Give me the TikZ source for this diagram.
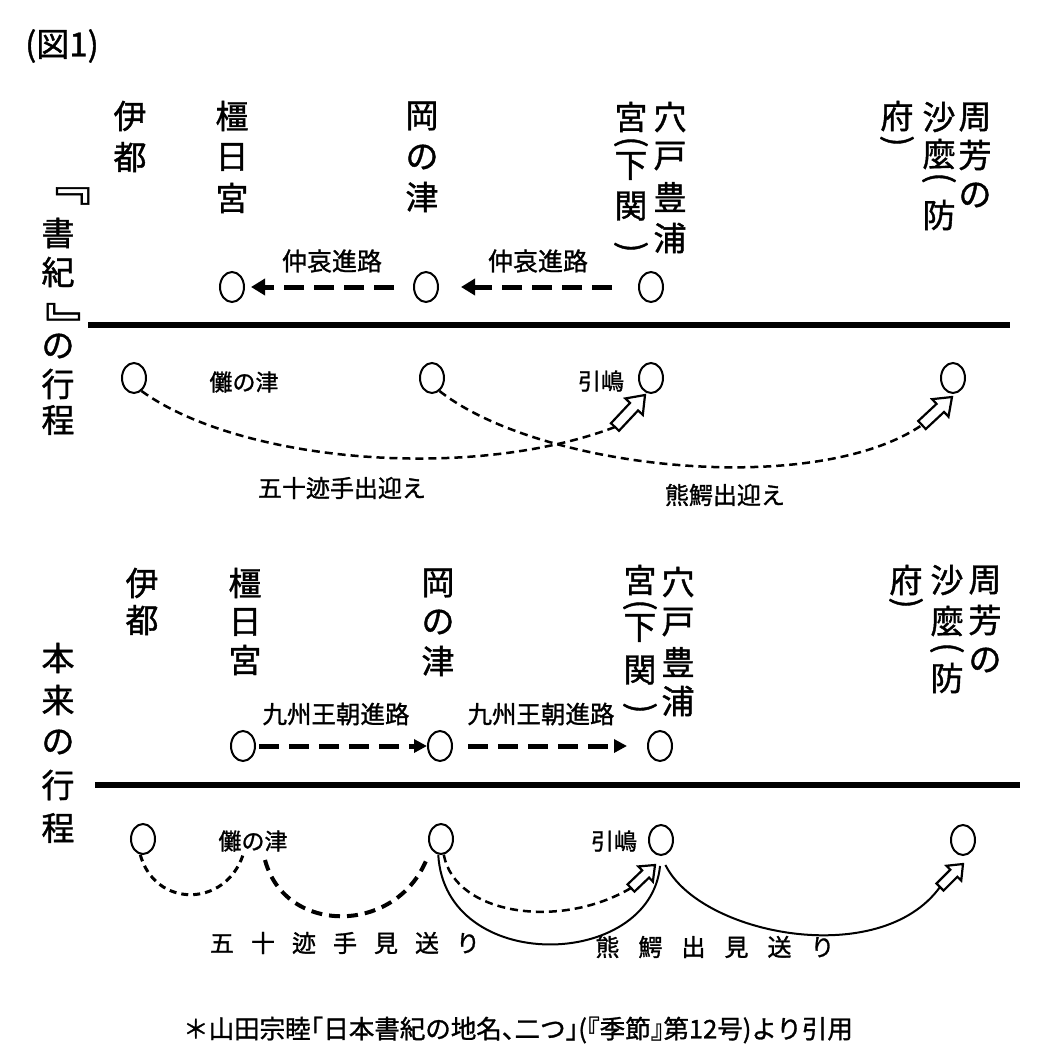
\documentclass[tikz,border=0pt]{standalone}
\usepackage{fontspec}
\usepackage{graphicx}
\newfontfamily\jp[FakeBold=1.2]{Noto Sans CJK JP}
\newfontfamily\jpn[RawFeature=+halt,FakeBold=1.2]{Noto Sans CJK JP}
\usetikzlibrary{shapes.geometric,arrows.meta,calc}
\newcommand{\vlp}{\rotatebox{-90}{(}}
\newcommand{\vrp}{\rotatebox{-90}{)}}
\newcommand{\vlb}{\scalebox{1.5}{﹃}}
\newcommand{\vrb}{\scalebox{1.5}{﹄}}
\newcommand{\gp}{\hspace{17pt}}
\newcommand{\gq}{\hspace{19pt}}
% tail, tip, body half width, head half width, head length
\newcommand{\blockarrow}[5]{%
  \coordinate (bh) at ($(#2)!#5!(#1)$);
  \draw[hollowtip] ($(#1)!#3!90:(#2)$) -- ($(bh)!#3!-90:(#1)$) -- ($(bh)!#4!-90:(#1)$) -- (#2)
    -- ($(bh)!#4!90:(#1)$) -- ($(bh)!#3!90:(#1)$) -- ($(#1)!#3!-90:(#2)$) -- cycle;}
\begin{document}
\begin{tikzpicture}[x=1pt,y=-1pt,
  spot/.style={ellipse,draw,line width=2pt,minimum width=24pt,minimum height=30pt,inner sep=0pt},
  bigch/.style={font=\jp\fontsize{33}{33}\selectfont,inner sep=0pt},
  lbl/.style={font=\jp\fontsize{24}{24}\selectfont,inner sep=0pt},
  rule/.style={line width=6pt},
  route/.style={line width=5pt,dash pattern=on 20pt off 10pt},
  thindash/.style={line width=2.5pt,dash pattern=on 8pt off 5pt},
  meddash/.style={line width=3pt,dash pattern=on 7pt off 5pt},
  thickdash/.style={line width=4pt,dash pattern=on 11pt off 7pt},
  solidc/.style={line width=2pt},
  hollowtip/.style={line width=2.2pt,fill=white,line join=miter}]
\fill[white] (0,0) rectangle (1054,1063);
\useasboundingbox (0,0) rectangle (1054,1063);

% title
\node[font=\jp\fontsize{33}{33}\selectfont,inner sep=0pt] (title) at (62,46) {(図1)};

% section headings
\foreach \n/\x/\y/\c in {
  ha1/66/196/\vlb, ha2/58/233/書, ha3/58/272/紀, ha4/70/324/\vrb,
  ha5/58/346/の, ha6/58/384/行, ha7/58/420/程,
  hb1/58/658/本, hb2/58/700/来, hb3/58/742/の, hb4/58/785/行, hb5/58/828/程}
  \node[bigch] (\n) at (\x,\y) {\c};

% place names, upper part
\foreach \n/\x/\y/\c in {
  ua1/130/116/伊, ua2/130/157/都,
  ub1/232/116/橿, ub2/232/157/日, ub3/232/198/宮,
  uc1/422/116/岡, uc2/422/157/の, uc3/422/197/津,
  ud1/670/117/穴, ud2/670/156/戸, ud3/670/197/豊, ud4/670/238/浦,
  ue1/631/117/宮, ue2/631/142/\vlp, ue3/631/166/下, ue4/631/206/関, ue5/631/247/\vrp,
  uf1/975/117/周, uf2/975/155/芳, uf3/975/195/の,
  ug1/939/117/沙, ug2/939/154/麼, ug3/939/178/\vlp, ug4/939/215/防,
  uh1/897/116/府, uh2/897/141/\vrp}
  \node[bigch] (\n) at (\x,\y) {\c};

% place names, lower part
\foreach \n/\x/\y/\c in {
  la1/142/583/伊, la2/142/620/都,
  lb1/245/583/橿, lb2/245/622/日, lb3/245/660/宮,
  lc1/438/583/岡, lc2/438/622/の, lc3/438/661/津,
  ld1/678/582/穴, ld2/678/622/戸, ld3/678/662/豊, ld4/678/701/浦,
  le1/640/580/宮, le2/640/605/\vlp, le3/640/628/下, le4/640/670/関, le5/640/708/\vrp,
  lf1/985/580/周, lf2/985/620/芳, lf3/985/660/の,
  lg1/947/580/沙, lg2/947/621/麼, lg3/947/648/\vlp, lg4/947/678/防,
  lh1/906/580/府, lh2/906/603/\vrp}
  \node[bigch] (\n) at (\x,\y) {\c};

% circles
\node[spot] (k1) at (232,287) {};
\node[spot] (o1) at (426,287) {};
\node[spot] (a1) at (651,287) {};
\node[spot] (i2) at (134,378) {};
\node[spot] (o2) at (432,378) {};
\node[spot] (h2) at (651,378) {};
\node[spot] (s2) at (953,378) {};
\node[spot] (k3) at (243,746) {};
\node[spot] (o3) at (440,746) {};
\node[spot] (a3) at (660,746) {};
\node[spot] (i4) at (143,839) {};
\node[spot] (o4) at (441,839) {};
\node[spot] (h4) at (661,840) {};
\node[spot] (s4) at (963,840) {};

% main rules
\coordinate (r1a) at (88,325);
\coordinate (r1b) at (1010,325);
\coordinate (r2a) at (95,785);
\coordinate (r2b) at (1020,785);
\draw[rule] (r1a) -- (r1b);
\draw[rule] (r2a) -- (r2b);

% route arrows
\draw[route,-{Triangle[length=14pt,width=16pt]},shorten <=19pt,shorten >=6pt] (o1.west) -- (k1.east);
\draw[route,-{Triangle[length=14pt,width=16pt]},shorten <=26pt,shorten >=22pt] (a1.west) -- (o1.east);
\draw[route,-{Triangle[length=13pt,width=13pt]},shorten <=3pt] (k3.east) -- (o3.west);
\draw[route,-{Triangle[length=13pt,width=13pt]},shorten <=15pt,shorten >=20pt] (o3.east) -- (a3.west);

% route labels
\node[lbl,font=\jp\fontsize{25}{25}\selectfont] (rl1) at (332,261) {仲哀進路};
\node[lbl,font=\jp\fontsize{25}{25}\selectfont] (rl2) at (538,261) {仲哀進路};
\node[lbl,font=\jp\fontsize{24.5}{24.5}\selectfont] (rl3) at (336,714) {九州王朝進路};
\node[lbl,font=\jp\fontsize{24.5}{24.5}\selectfont] (rl4) at (541,714) {九州王朝進路};

% small labels
\node[lbl,font=\jp\fontsize{23}{23}\selectfont] (nt2) at (244,382) {儺の津};
\node[lbl,font=\jp\fontsize{23}{23}\selectfont] (hk2) at (601,381) {引嶋};
\node[lbl] (ms) at (342,488) {五十迹手出迎え};
\node[lbl] (km) at (725,495) {熊鰐出迎え};
\node[lbl,font=\jp\fontsize{23}{23}\selectfont] (nt4) at (253,841) {儺の津};
\node[lbl,font=\jp\fontsize{23}{23}\selectfont] (hk4) at (614,841) {引嶋};
\node[lbl] (mo) at (345,943) {五\gp 十\gp 迹\gp 手\gp 見\gp 送\gp り};
\node[lbl] (ko) at (715,947) {熊\gq 鰐\gq 出\gq 見\gq 送\gq り};

% upper curves
\coordinate (t1) at (615,427);
\coordinate (p1) at (645,395);
\coordinate (t2) at (922,425);
\coordinate (p2) at (952,397);
\draw[thindash] (i2.-60) .. controls (240,462) and (470,482) .. (t1);
\draw[thindash] (o2.-60) .. controls (540,470) and (815,498) .. (t2);
\blockarrow{t1}{p1}{5.5pt}{12pt}{16pt}
\blockarrow{t2}{p2}{5.5pt}{12pt}{16pt}

% lower curves
\coordinate (na1) at (243,855);
\coordinate (na2) at (265,860);
\coordinate (t3) at (631,888);
\coordinate (p3) at (655,865);
\coordinate (t4) at (940,887);
\coordinate (p4) at (963,864);
\draw[meddash] (i4.-100) .. controls (155,908) and (225,908) .. (na1);
\draw[thickdash,shorten >=12pt] (na2) .. controls (285,935) and (395,935) .. (o4.-135);
\draw[thindash] (o4.-80) .. controls (455,915) and (560,930) .. (t3);
\draw[solidc,shorten >=10pt] (o4.-100) .. controls (445,975) and (650,970) .. (h4.south);
\draw[solidc,shorten <=10pt] (h4.south) .. controls (700,935) and (880,970) .. (t4);
\blockarrow{t3}{p3}{5pt}{10.5pt}{13pt}
\blockarrow{t4}{p4}{5pt}{10.5pt}{13pt}

% footnote
\node[font=\jpn\fontsize{25.5}{25.5}\selectfont,inner sep=0pt] (note) at (518,1030)
  {＊山田宗睦「日本書紀の地名、二つ」(『季節』第12号)より引用};
\end{tikzpicture}
\end{document}
